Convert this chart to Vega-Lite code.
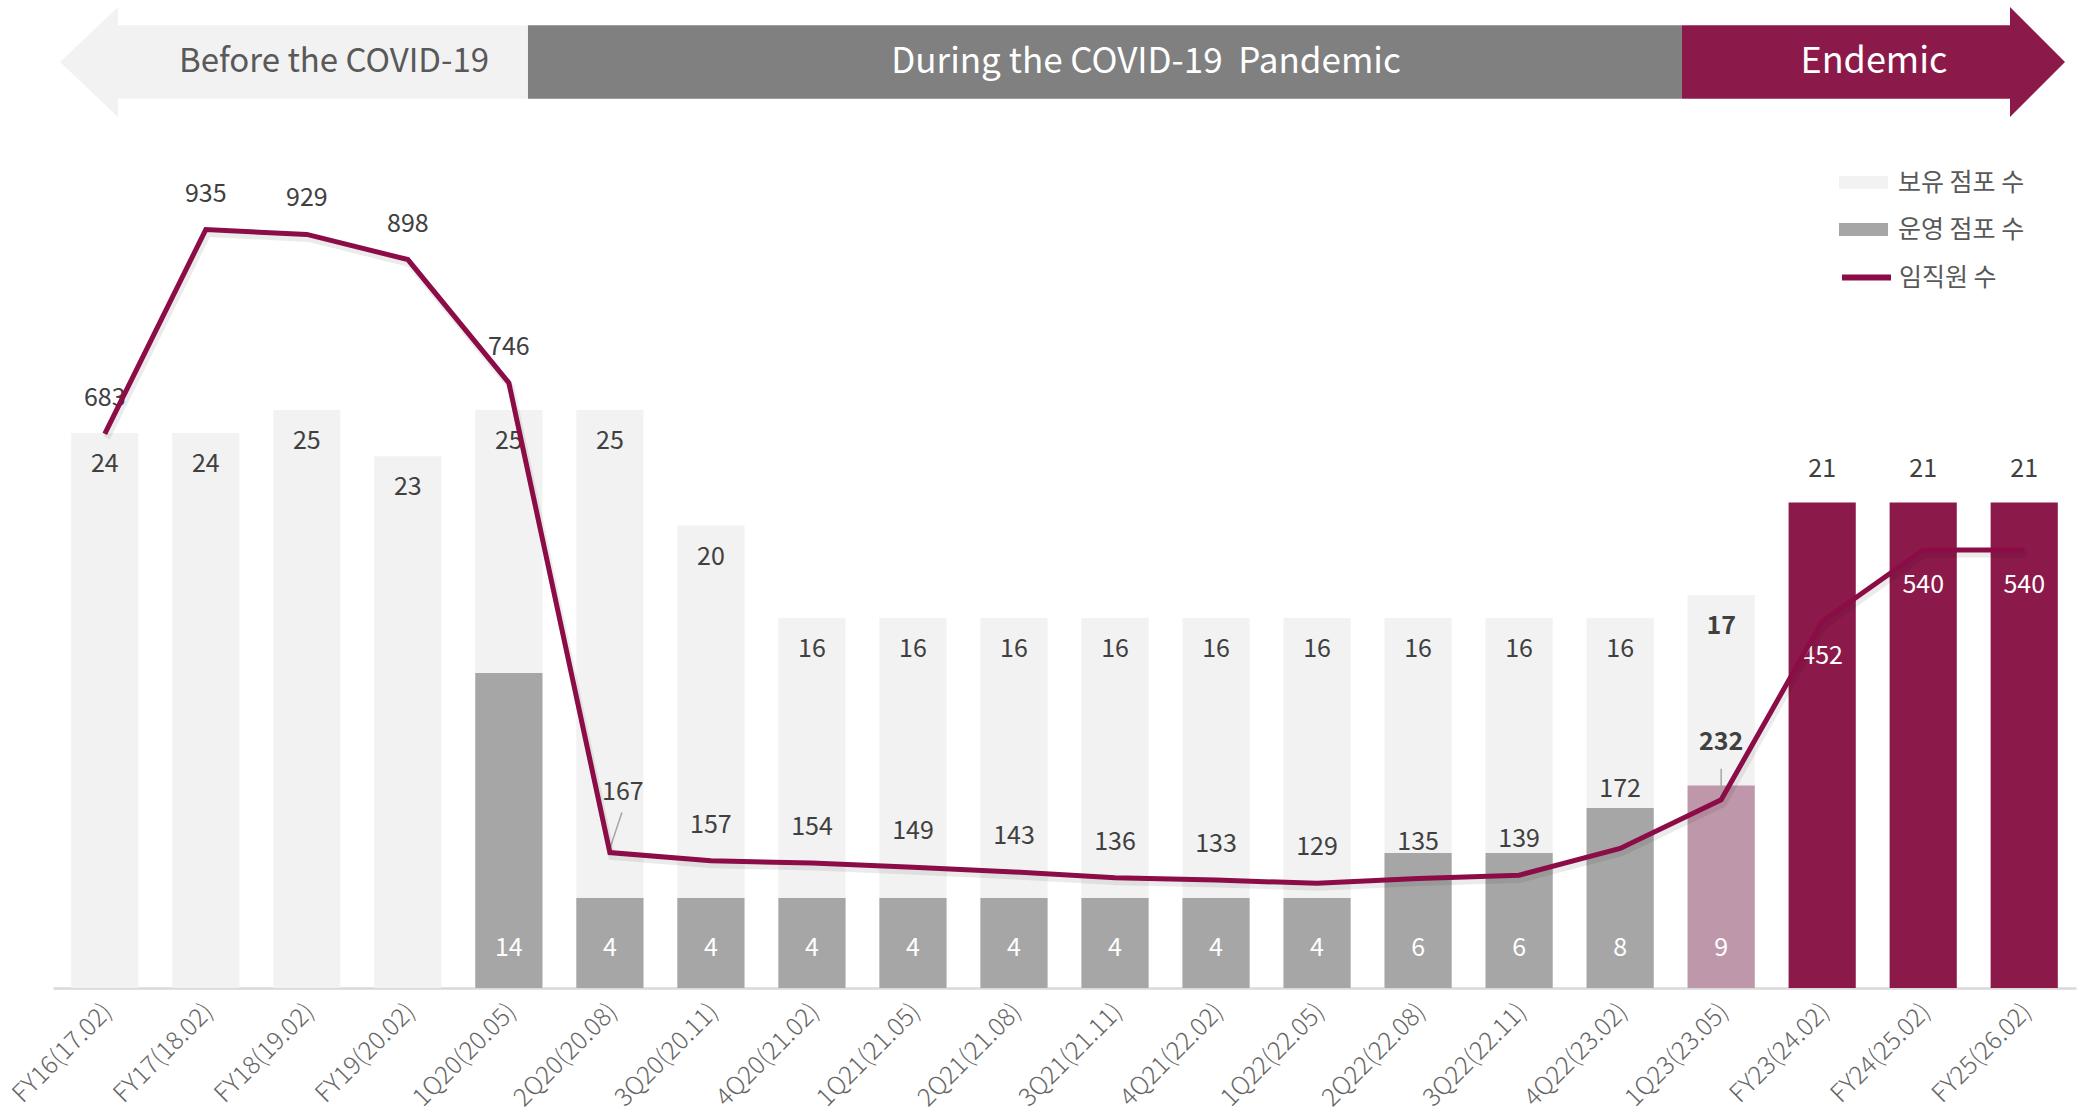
{
  "$schema": "https://vega.github.io/schema/vega-lite/v6.json",
  "width": 2023,
  "height": 988,
  "autosize": {"type": "none"},
  "padding": {"left": 53, "top": 0, "right": 4, "bottom": 124},
  "background": "white",
  "config": {
    "view": {"stroke": null},
    "font": "Noto Sans CJK KR",
    "text": {"font": "Noto Sans CJK KR"}
  },
  "datasets": {
    "main": [
      {"period": "FY16(17.02)", "owned": 24, "operating": null, "employees": 683, "ownedType": "보유 점포 수", "opType": null},
      {"period": "FY17(18.02)", "owned": 24, "operating": null, "employees": 935, "ownedType": "보유 점포 수", "opType": null},
      {"period": "FY18(19.02)", "owned": 25, "operating": null, "employees": 929, "ownedType": "보유 점포 수", "opType": null},
      {"period": "FY19(20.02)", "owned": 23, "operating": null, "employees": 898, "ownedType": "보유 점포 수", "opType": null},
      {"period": "1Q20(20.05)", "owned": 25, "operating": 14, "employees": 746, "ownedType": "보유 점포 수", "opType": "운영 점포 수"},
      {"period": "2Q20(20.08)", "owned": 25, "operating": 4, "employees": 167, "ownedType": "보유 점포 수", "opType": "운영 점포 수"},
      {"period": "3Q20(20.11)", "owned": 20, "operating": 4, "employees": 157, "ownedType": "보유 점포 수", "opType": "운영 점포 수"},
      {"period": "4Q20(21.02)", "owned": 16, "operating": 4, "employees": 154, "ownedType": "보유 점포 수", "opType": "운영 점포 수"},
      {"period": "1Q21(21.05)", "owned": 16, "operating": 4, "employees": 149, "ownedType": "보유 점포 수", "opType": "운영 점포 수"},
      {"period": "2Q21(21.08)", "owned": 16, "operating": 4, "employees": 143, "ownedType": "보유 점포 수", "opType": "운영 점포 수"},
      {"period": "3Q21(21.11)", "owned": 16, "operating": 4, "employees": 136, "ownedType": "보유 점포 수", "opType": "운영 점포 수"},
      {"period": "4Q21(22.02)", "owned": 16, "operating": 4, "employees": 133, "ownedType": "보유 점포 수", "opType": "운영 점포 수"},
      {"period": "1Q22(22.05)", "owned": 16, "operating": 4, "employees": 129, "ownedType": "보유 점포 수", "opType": "운영 점포 수"},
      {"period": "2Q22(22.08)", "owned": 16, "operating": 6, "employees": 135, "ownedType": "보유 점포 수", "opType": "운영 점포 수"},
      {"period": "3Q22(22.11)", "owned": 16, "operating": 6, "employees": 139, "ownedType": "보유 점포 수", "opType": "운영 점포 수"},
      {"period": "4Q22(23.02)", "owned": 16, "operating": 8, "employees": 172, "ownedType": "보유 점포 수", "opType": "운영 점포 수"},
      {"period": "1Q23(23.05)", "owned": 17, "operating": 9, "employees": 232, "ownedType": "보유 점포 수", "opType": "1Q23 운영 점포 수"},
      {"period": "FY23(24.02)", "owned": 21, "operating": null, "employees": 452, "ownedType": "엔데믹 점포 수", "opType": null},
      {"period": "FY24(25.02)", "owned": 21, "operating": null, "employees": 540, "ownedType": "엔데믹 점포 수", "opType": null},
      {"period": "FY25(26.02)", "owned": 21, "operating": null, "employees": 540, "ownedType": "엔데믹 점포 수", "opType": null}
    ],
    "banner": [
      {"phase": "Before the COVID-19", "start": 0.131, "end": 4.189, "center": 2.269},
      {"phase": "During the COVID-19\u00a0 Pandemic", "start": 4.189, "end": 15.612, "center": 10.307},
      {"phase": "Endemic", "start": 15.612, "end": 18.86, "center": 17.513}
    ]
  },
  "layer": [
    {
      "data": {"name": "main"},
      "encoding": {
        "x": {
          "field": "period",
          "type": "nominal",
          "title": null,
          "scale": {
            "domain": ["FY16(17.02)", "FY17(18.02)", "FY18(19.02)", "FY19(20.02)", "1Q20(20.05)", "2Q20(20.08)", "3Q20(20.11)", "4Q20(21.02)", "1Q21(21.05)", "2Q21(21.08)", "3Q21(21.11)", "4Q21(22.02)", "1Q22(22.05)", "2Q22(22.08)", "3Q22(22.11)", "4Q22(23.02)", "1Q23(23.05)", "FY23(24.02)", "FY24(25.02)", "FY25(26.02)"],
            "paddingInner": 0.335,
            "paddingOuter": 0.18
          },
          "axis": {
            "labelAngle": -45,
            "labelAlign": "right",
            "labelBaseline": "middle",
            "labelPadding": 19,
            "labelOffset": 3,
            "labelFontSize": 25,
            "labelFont": "Noto Sans CJK KR",
            "labelFontWeight": 300,
            "labelColor": "#666666",
            "ticks": false,
            "grid": false,
            "domainColor": "#d9d9d9",
            "domainWidth": 2.5
          }
        }
      },
      "layer": [
        {
          "layer": [
            {
              "mark": {"type": "bar"},
              "encoding": {
                "y": {"field": "owned", "type": "quantitative", "scale": {"domain": [0, 42.73], "nice": false}, "axis": null},
                "color": {
                  "field": "ownedType",
                  "type": "nominal",
                  "scale": {
                    "domain": ["보유 점포 수", "운영 점포 수", "1Q23 운영 점포 수", "엔데믹 점포 수"],
                    "range": ["#f2f2f2", "#a6a6a6", "#bf97aa", "#8b1a4a"]
                  },
                  "legend": {
                    "title": null,
                    "orient": "none",
                    "legendX": 1788,
                    "legendY": 160,
                    "values": ["보유 점포 수", "운영 점포 수"],
                    "symbolType": "M-1.09,-0.29H1.09V0.29H-1.09Z",
                    "symbolSize": 2025,
                    "symbolStrokeWidth": 0,
                    "symbolOpacity": 1,
                    "labelFontSize": 25,
                    "labelFont": "Noto Sans CJK KR",
                    "labelColor": "#595959",
                    "labelOffset": 12,
                    "rowPadding": 11,
                    "padding": 0
                  }
                }
              }
            },
            {
              "transform": [{"filter": "datum.ownedType === '보유 점포 수' && datum.period !== '1Q23(23.05)'"}],
              "mark": {"type": "text", "dy": 31, "baseline": "middle", "align": "center", "fontSize": 25, "color": "#404040"},
              "encoding": {
                "y": {"field": "owned", "type": "quantitative"},
                "text": {"field": "owned", "type": "quantitative"}
              }
            },
            {
              "transform": [{"filter": "datum.period === '1Q23(23.05)'"}],
              "mark": {"type": "text", "dy": 31, "baseline": "middle", "align": "center", "fontSize": 25, "fontWeight": "bold", "color": "#404040"},
              "encoding": {
                "y": {"field": "owned", "type": "quantitative"},
                "text": {"field": "owned", "type": "quantitative"}
              }
            },
            {
              "transform": [{"filter": "datum.ownedType !== '보유 점포 수'"}],
              "mark": {"type": "text", "dy": -33, "baseline": "middle", "align": "center", "fontSize": 25, "color": "#404040"},
              "encoding": {
                "y": {"field": "owned", "type": "quantitative"},
                "text": {"field": "owned", "type": "quantitative"}
              }
            }
          ]
        },
        {
          "layer": [
            {
              "mark": {"type": "bar"},
              "encoding": {
                "y": {"field": "operating", "type": "quantitative", "scale": {"domain": [0, 43.9], "nice": false}, "axis": null},
                "color": {
                  "field": "opType",
                  "type": "nominal",
                  "legend": {
                    "title": null,
                    "orient": "none",
                    "legendX": 1788,
                    "legendY": 160,
                    "values": ["보유 점포 수", "운영 점포 수"],
                    "symbolType": "M-1.09,-0.29H1.09V0.29H-1.09Z",
                    "symbolSize": 2025,
                    "symbolStrokeWidth": 0,
                    "symbolOpacity": 1,
                    "labelFontSize": 25,
                    "labelFont": "Noto Sans CJK KR",
                    "labelColor": "#595959",
                    "labelOffset": 12,
                    "rowPadding": 11,
                    "padding": 0
                  }
                }
              }
            },
            {
              "transform": [{"filter": "isValid(datum.operating)"}],
              "mark": {"type": "text", "dy": -40, "baseline": "middle", "align": "center", "fontSize": 25, "color": "white"},
              "encoding": {
                "y": {"datum": 0, "type": "quantitative"},
                "text": {"field": "operating", "type": "quantitative"}
              }
            }
          ]
        },
        {
          "layer": [
            {
              "transform": [{"filter": "indexof(['2Q20(20.08)','4Q22(23.02)','1Q23(23.05)','FY23(24.02)','FY24(25.02)','FY25(26.02)'], datum.period) < 0"}],
              "mark": {"type": "text", "dy": -36, "baseline": "middle", "align": "center", "fontSize": 25, "color": "#404040"},
              "encoding": {
                "y": {"field": "employees", "type": "quantitative", "scale": {"domain": [0, 1218], "nice": false}, "axis": null},
                "text": {"field": "employees", "type": "quantitative"}
              }
            },
            {
              "transform": [{"filter": "datum.period === '2Q20(20.08)'"}],
              "mark": {"type": "text", "dy": -61, "dx": 13, "baseline": "middle", "align": "center", "fontSize": 25, "color": "#404040"},
              "encoding": {
                "y": {"field": "employees", "type": "quantitative"},
                "text": {"field": "employees", "type": "quantitative"}
              }
            },
            {
              "transform": [{"filter": "datum.period === '4Q22(23.02)'"}],
              "mark": {"type": "text", "dy": -59, "baseline": "middle", "align": "center", "fontSize": 25, "color": "#404040"},
              "encoding": {
                "y": {"field": "employees", "type": "quantitative"},
                "text": {"field": "employees", "type": "quantitative"}
              }
            },
            {
              "transform": [{"filter": "datum.period === '1Q23(23.05)'"}],
              "mark": {"type": "text", "dy": -58, "baseline": "middle", "align": "center", "fontSize": 25, "fontWeight": "bold", "color": "#404040"},
              "encoding": {
                "y": {"field": "employees", "type": "quantitative"},
                "text": {"field": "employees", "type": "quantitative"}
              }
            },
            {
              "transform": [{"filter": "datum.period === '1Q23(23.05)'"}],
              "mark": {"type": "rule", "yOffset": -3, "y2Offset": -31, "color": "#a6a6a6", "strokeWidth": 1.5},
              "encoding": {
                "y": {"field": "employees", "type": "quantitative"},
                "y2": {"field": "employees"}
              }
            },
            {
              "transform": [{"filter": "datum.period === '2Q20(20.08)'"}],
              "mark": {"type": "rule", "yOffset": -4, "y2Offset": -40, "x2Offset": 12, "color": "#a6a6a6", "strokeWidth": 1.5},
              "encoding": {
                "x": {"field": "period", "type": "nominal", "bandPosition": 0.5},
                "x2": {"field": "period", "bandPosition": 0.5},
                "y": {"field": "employees", "type": "quantitative"},
                "y2": {"field": "employees"}
              }
            },
            {
              "transform": [{"filter": "indexof(['FY23(24.02)','FY24(25.02)','FY25(26.02)'], datum.period) >= 0"}],
              "mark": {"type": "text", "dy": 35, "baseline": "middle", "align": "center", "fontSize": 25, "color": "white"},
              "encoding": {
                "y": {"field": "employees", "type": "quantitative"},
                "text": {"field": "employees", "type": "quantitative"}
              }
            },
            {
              "mark": {"type": "line", "strokeWidth": 7, "stroke": "#000000", "opacity": 0.08, "yOffset": 4, "xOffset": 2},
              "encoding": {
                "y": {"field": "employees", "type": "quantitative"}
              }
            },
            {
              "mark": {"type": "line", "strokeWidth": 5, "strokeJoin": "miter"},
              "encoding": {
                "y": {"field": "employees", "type": "quantitative"},
                "stroke": {
                  "datum": "임직원 수",
                  "scale": {"domain": ["임직원 수"], "range": ["#8c0c48"]},
                  "legend": {
                    "title": null,
                    "orient": "none",
                    "legendX": 1786,
                    "legendY": 250,
                    "symbolType": "stroke",
                    "symbolSize": 2401,
                    "symbolStrokeWidth": 6,
                    "labelFontSize": 25,
                    "labelFont": "Noto Sans CJK KR",
                    "labelColor": "#595959",
                    "labelOffset": 5,
                    "padding": 0
                  }
                }
              }
            }
          ]
        }
      ],
      "resolve": {"scale": {"y": "independent"}}
    },
    {
      "data": {"name": "banner"},
      "encoding": {
        "x": {"field": "start", "type": "quantitative", "scale": {"domain": [-0.5128, 19.513], "nice": false, "zero": false}, "axis": null},
        "y": {"datum": 0, "type": "quantitative", "scale": {"domain": [-16.84, 1.127], "nice": false, "zero": false}, "axis": null}
      },
      "layer": [
        {
          "mark": {"type": "rect"},
          "encoding": {
            "y": {"datum": 0.67, "type": "quantitative"},
            "y2": {"datum": -0.67},
            "x2": {"field": "end"},
            "fill": {
              "field": "phase",
              "type": "nominal",
              "scale": {"domain": ["Before the COVID-19", "During the COVID-19\u00a0 Pandemic", "Endemic"], "range": ["#f2f2f2", "#808080", "#8b1a4a"]},
              "legend": null
            }
          }
        },
        {
          "transform": [{"filter": "datum.phase === 'Before the COVID-19'"}],
          "mark": {"type": "point", "shape": "M0.527,-1L-0.527,0L0.527,1Z", "size": 12100, "filled": true, "color": "#f2f2f2", "opacity": 1, "strokeWidth": 0},
          "encoding": {"x": {"datum": -0.156, "type": "quantitative"}}
        },
        {
          "transform": [{"filter": "datum.phase === 'Endemic'"}],
          "mark": {"type": "point", "shape": "M-0.5,-1L0.5,0L-0.5,1Z", "size": 12100, "filled": true, "color": "#8b1a4a", "opacity": 1, "strokeWidth": 0},
          "encoding": {"x": {"datum": 19.132, "type": "quantitative"}}
        },
        {
          "transform": [{"filter": "datum.phase === 'Before the COVID-19'"}],
          "mark": {"type": "text", "baseline": "middle", "align": "center", "fontSize": 33, "color": "#595959"},
          "encoding": {"x": {"field": "center", "type": "quantitative"}, "text": {"field": "phase"}}
        },
        {
          "transform": [{"filter": "datum.phase !== 'Before the COVID-19' && datum.phase !== 'Endemic'"}],
          "mark": {"type": "text", "baseline": "middle", "align": "center", "fontSize": 35, "color": "white"},
          "encoding": {"x": {"field": "center", "type": "quantitative"}, "text": {"field": "phase"}}
        },
        {
          "transform": [{"filter": "datum.phase === 'Endemic'"}],
          "mark": {"type": "text", "baseline": "middle", "align": "center", "fontSize": 36, "color": "white"},
          "encoding": {"x": {"field": "center", "type": "quantitative"}, "text": {"field": "phase"}}
        }
      ]
    }
  ],
  "resolve": {"scale": {"x": "independent", "y": "independent"}}
}
